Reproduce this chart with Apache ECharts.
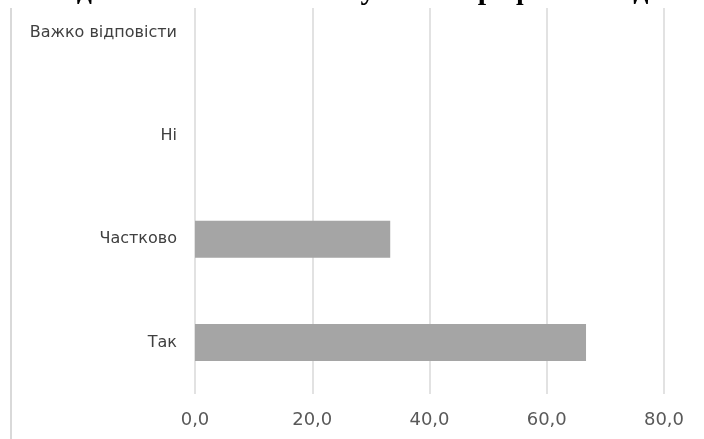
<!DOCTYPE html>
<html>
<head>
<meta charset="utf-8">
<script src="https://cdn.jsdelivr.net/npm/echarts@6/dist/echarts.min.js"></script>
<style>html,body{margin:0;padding:0;background:#fff;overflow:hidden;}#c{width:704px;height:458px;margin-top:-19px;}</style>
</head>
<body>
<div id="c"></div>
<script>
var categories = ['Так', 'Частково', 'Ні', 'Важко відповісти'];
var values = [66.7, 33.3, 0, 0];
var xTicks = { min: 0, max: 80, interval: 20 };
var titleText = 'Чи допомагає навчання у своїй професійній діяльності';

var chart = echarts.init(document.getElementById('c'), null, { renderer: 'canvas' });
chart.setOption({
  animation: false,
  backgroundColor: '#ffffff',
  grid: { left: 195, right: 40, top: 0, bottom: 45, containLabel: false },
  xAxis: {
    type: 'value',
    min: xTicks.min, max: xTicks.max, interval: xTicks.interval,
    axisLine: { show: false },
    axisTick: { show: false },
    splitLine: { show: true, lineStyle: { color: '#d9d9d9', width: 1.5 } },
    axisLabel: {
      margin: 17,
      color: '#595959',
      fontFamily: 'DejaVu Sans',
      fontSize: 18,
      formatter: function (v) { return v.toFixed(1).replace('.', ','); }
    }
  },
  yAxis: {
    type: 'category',
    data: categories,
    axisLine: { show: false },
    axisTick: { show: false },
    axisLabel: { margin: 18, color: '#404040', fontFamily: 'DejaVu Sans', fontSize: 16 }
  },
  series: [{
    type: 'bar',
    data: values,
    barWidth: 37,
    itemStyle: { color: '#a5a5a5', borderWidth: 0 }
  }],
  graphic: [
    { type: 'rect', shape: { x: 0, y: 0, width: 704, height: 27 }, style: { fill: '#ffffff' }, z: 100 },
    { type: 'line', shape: { x1: 11, y1: 27, x2: 11, y2: 458 }, style: { stroke: '#d9d9d9', lineWidth: 2 }, z: 100 },
    { type: 'text', x: 30, y: 25, z: 101,
      style: { text: titleText, font: 'bold 30px "Liberation Serif"', fill: '#000000', verticalAlign: 'bottom' } }
  ]
});
</script>
</body>
</html>
